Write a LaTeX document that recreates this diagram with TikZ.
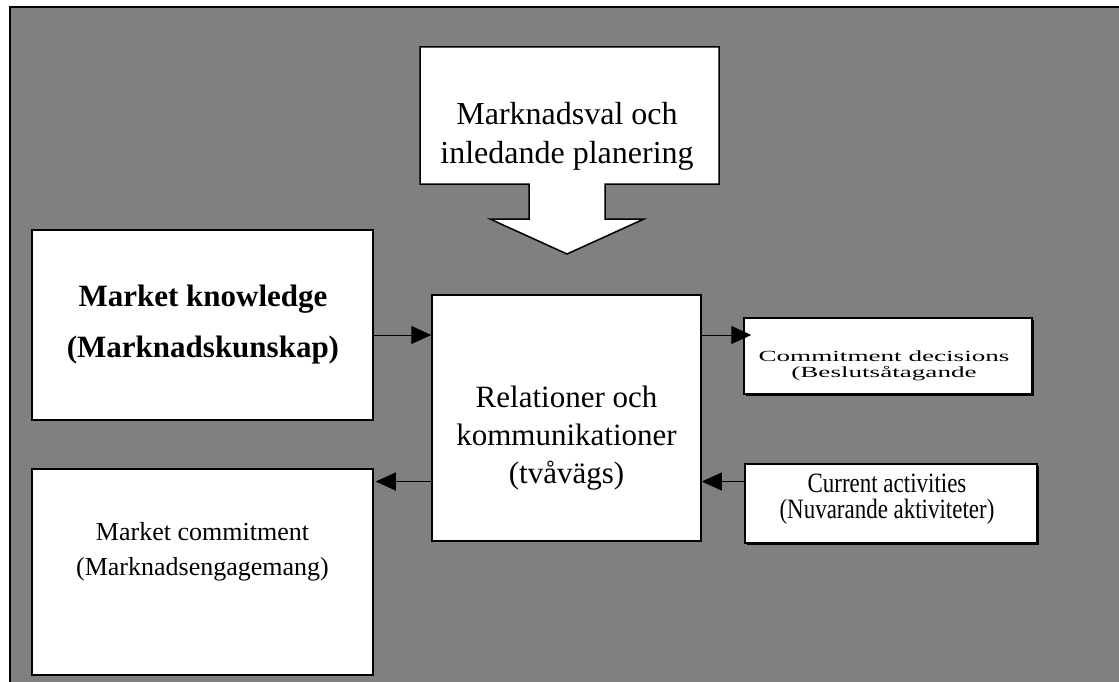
\documentclass[tikz,border=0pt]{standalone}
\usepackage{fontspec}
\setmainfont{Liberation Serif}
\newfontfamily\narrowserif{Liberation Serif}[FakeStretch=0.82]
\newfontfamily\wideserif{Liberation Serif}[FakeStretch=1.75]
\usetikzlibrary{arrows.meta,shadows,calc}

\tikzset{
  box/.style={draw=black, line width=1.5pt, fill=white, inner sep=0pt},
  shadowbox/.style={box, drop shadow={shadow xshift=2pt, shadow yshift=-2pt, fill=black, opacity=1}},
  txt/.style={inner sep=0pt, align=center},
  conn/.style={-{Triangle[length=20pt,width=18pt]}, line width=1pt},
}

\begin{document}
\begin{tikzpicture}[x=1pt,y=-1pt]
				\useasboundingbox (0,0) rectangle (1119,682);
				% background
				\draw [line width=2pt, fill=gray] (10,7) rectangle (1130,695);
				% planning arrow
				\draw [box] (420,47) -- (719,47) -- (719,184) -- (605,184) -- (605,219) -- (644,219) -- (567,254) -- (490,219) -- (529,219) -- (529,184) -- (420,184) -- cycle;
				\node [txt, font=\fontsize{32}{39}\selectfont] (planning) at (567,136) {Marknadsval och\\inledande planering};
				% boxes
				\node [box, minimum width=341pt, minimum height=190pt] (knowledge) at (202.5,325) {};
				\node [txt, font=\bfseries\fontsize{31}{51}\selectfont] (knowledgetxt) at (203,325) {Market knowledge\\(Marknadskunskap)};
				\node [box, minimum width=341pt, minimum height=206pt] (engagement) at (202.5,572) {};
				\node [txt, font=\fontsize{26}{35}\selectfont] (engagementtxt) at (202.5,552) {Market commitment\\(Marknadsengagemang)};
				\node [box, minimum width=269pt, minimum height=246pt] (relation) at (566.5,418) {};
				\node [txt, font=\fontsize{31}{38}\selectfont] (relationtxt) at (566.5,438) {Relationer och\\kommunikationer\\(tvåvägs)};
				\node [shadowbox, minimum width=288pt, minimum height=76pt] (decisions) at (888,356) {};
				\node [txt, font=\wideserif\fontsize{15.5}{16}\selectfont] (decisionstxt) at (884,366) {Commitment decisions\\(Beslutsåtagande};
				\node [shadowbox, minimum width=292pt, minimum height=79pt] (activities) at (891,503.5) {};
				\node [txt, font=\narrowserif\fontsize{28}{26}\selectfont] (activitiestxt) at (887,499) {Current activities\\(Nuvarande aktiviteter)};
				% connectors
				\draw [conn] ([yshift=-10pt]knowledge.east) -- ([yshift=-10pt]knowledge.east -| relation.west);
				\draw [conn] ([yshift=-10pt]knowledge.east -| relation.east) -- ($(knowledge.east -| decisions.west)+(8pt,-10pt)$);
				\draw [conn] ([yshift=22pt]activities.west) -- ([yshift=22pt]activities.west -| relation.east);
				\draw [conn] ([yshift=22pt]activities.west -| relation.west) -- ($(activities.west -| engagement.east)+(2pt,22pt)$);
\end{tikzpicture}
\end{document}
